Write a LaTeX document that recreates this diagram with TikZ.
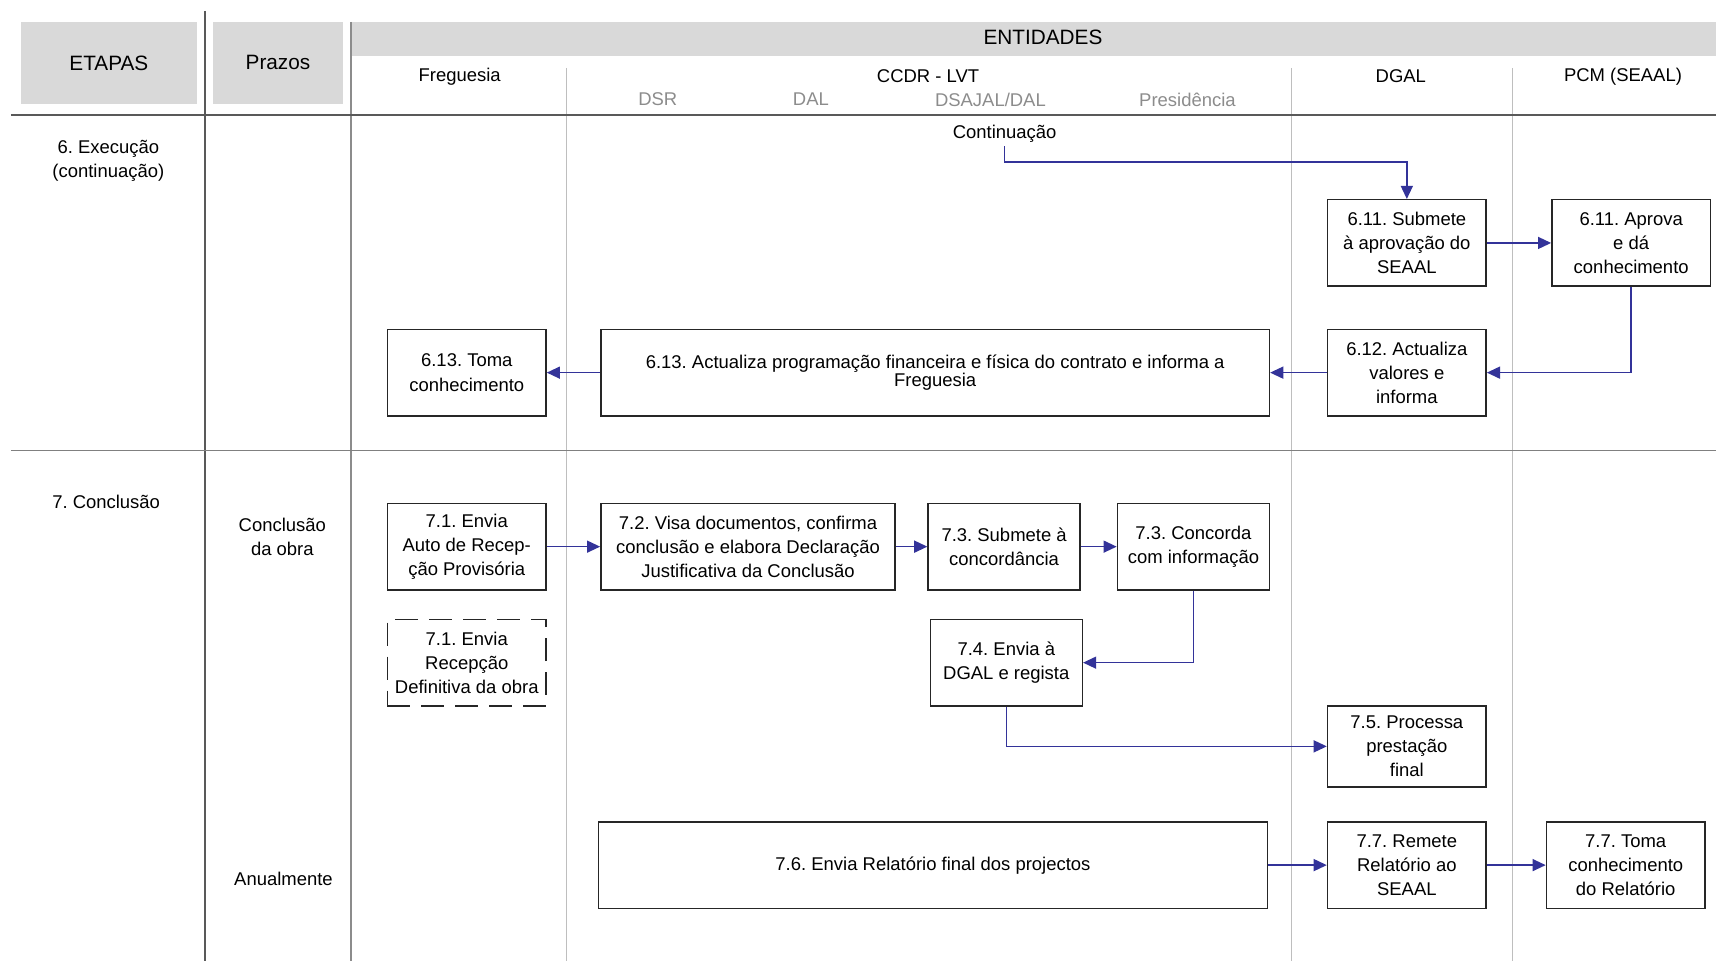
\documentclass[tikz,border=0pt]{standalone}
\usepackage{fontspec}
\setmainfont{Liberation Sans}
\usetikzlibrary{arrows.meta}
\definecolor{flowblue}{RGB}{51,51,153}
\definecolor{headgray}{RGB}{217,217,217}
\definecolor{lanegray}{RGB}{190,190,190}
\frenchspacing

\begin{document}
\begin{tikzpicture}[x=0.02cm, y=-0.02cm,
    font=\fontsize{9.6}{12.5}\selectfont,
    box/.style={draw=black!85, fill=white, line width=0.75pt, align=center, minimum width=2.9cm, minimum height=1.58cm, inner sep=1pt},
    dashbox/.style={box, dash pattern=on 0.42cm off 0.2cm},
    head/.style={fill=headgray, inner sep=0pt, font=\fontsize{10.8}{13}\selectfont},
    lbl/.style={align=center, inner sep=2pt},
    sub/.style={lbl, text=black!45},
    flow/.style={draw=flowblue, line width=0.75pt, -{Triangle[length=0.24cm, width=0.22cm]}}]
    \useasboundingbox (0,0) rectangle (1568,878);

    \fill[headgray] (321,20) rectangle (1568,51);
    \draw[line width=1.1pt, black!65] (187,10) -- (187,878);
    \draw[line width=0.85pt, black!45] (321,20) -- (321,878);
    \draw[line width=0.55pt, lanegray] (518,62) -- (518,878);
    \draw[line width=0.55pt, lanegray] (1180,62) -- (1180,878);
    \draw[line width=0.55pt, lanegray] (1382,62) -- (1382,878);
    \draw[line width=0.85pt, black!65] (10,105) -- (1568,105);
    \draw[line width=0.6pt, black!50] (10,412) -- (1568,412);

    \node[head, minimum width=3.22cm, minimum height=1.5cm] at (99.5,57.5) (etapas) {ETAPAS};
    \node[head, minimum width=2.36cm, minimum height=1.5cm] at (254,57.5) (prazos) {Prazos};
    \node[lbl, font=\fontsize{10.8}{13}\selectfont] at (953,34) (entidades) {ENTIDADES};

    \node[lbl] at (420,70) (freguesia) {Freguesia};
    \node[lbl] at (848,70) (ccdr) {CCDR - LVT};
    \node[lbl] at (1280,70) (dgal) {DGAL};
    \node[lbl] at (1483,70) (pcm) {PCM (SEAAL)};
    \node[sub] at (601,91) (dsr) {DSR};
    \node[sub] at (741,91) (dal) {DAL};
    \node[sub] at (905,91) (dsajal) {DSAJAL/DAL};
    \node[sub] at (1085,91) (presid) {Presidência};

    \node[lbl] at (99,147) (etapa6) {6. Execução\\(continuação)};
    \node[lbl] at (97,459) (etapa7) {7. Conclusão};
    \node[lbl] at (258,491) (prazo7) {Conclusão\\da obra};
    \node[lbl] at (259,803) (anual) {Anualmente};

    \node[lbl] at (918,122) (cont) {Continuação};
    \coordinate (cbend) at (918,148);

    \node[box] at (1285.5,222) (S611) {6.11. Submete\\à aprovação do\\SEAAL};
    \node[box] at (1490.5,222) (A611) {6.11. Aprova\\e dá\\conhecimento};
    \node[box] at (1285.5,340.5) (A612) {6.12. Actualiza\\valores e\\informa};
    \node[box, minimum width=12.22cm] at (854.5,340.5) (A613) {6.13. Actualiza programação financeira e física do contrato e informa a\\[-3.4pt]Freguesia};
    \node[box] at (426.5,340.5) (T613) {6.13. Toma\\conhecimento};

    \node[box] at (426.5,499.5) (E71) {7.1. Envia\\Auto de Recep-\\ção Provisória};
    \node[dashbox] at (426.5,605.5) (D71) {7.1. Envia\\Recepção\\Definitiva da obra};
    \node[box, minimum width=5.38cm] at (683.5,499.5) (V72) {7.2. Visa documentos, confirma\\conclusão e elabora Declaração\\Justificativa da Conclusão};
    \node[box, minimum width=2.78cm] at (917.5,499.5) (S73) {7.3. Submete à\\concordância};
    \node[box, minimum width=2.78cm] at (1090.5,499.5) (C73) {7.3. Concorda\\com informação};
    \node[box, minimum width=2.78cm] at (919.5,605.5) (E74) {7.4. Envia à\\DGAL e regista};
    \node[box, minimum height=1.48cm] at (1285.5,682) (P75) {7.5. Processa\\prestação\\final};
    \node[box, minimum width=12.22cm] at (852.5,790.5) (E76) {7.6. Envia Relatório final dos projectos};
    \node[box] at (1285.5,790.5) (R77) {7.7. Remete\\Relatório ao\\SEAAL};
    \node[box] at (1485.5,790.5) (T77) {7.7. Toma\\conhecimento\\do Relatório};

    \draw[flow] (cont.south) -- (cbend) -| (S611.north);
    \draw[flow] (S611) -- (A611);
    \draw[flow] (A611.south) |- (A612.east);
    \draw[flow] (A612) -- (A613);
    \draw[flow] (A613) -- (T613);
    \draw[flow] (E71) -- (V72);
    \draw[flow] (V72) -- (S73);
    \draw[flow] (S73) -- (C73);
    \draw[flow] (C73.south) |- (E74.east);
    \draw[flow] (E74.south) |- (P75.west);
    \draw[flow] (E76) -- (R77);
    \draw[flow] (R77) -- (T77);
\end{tikzpicture}
\end{document}
